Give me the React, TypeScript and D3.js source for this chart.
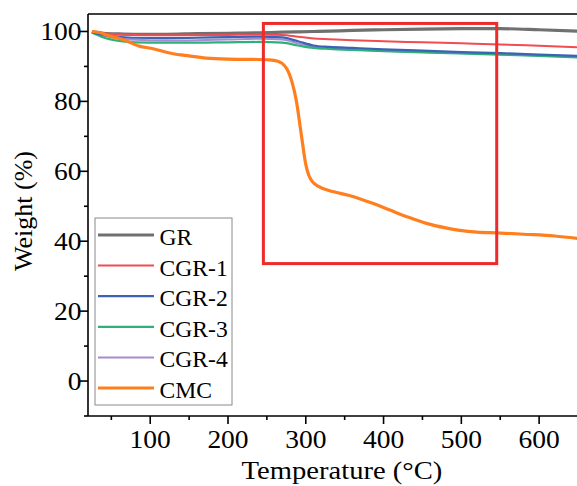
import React, { useEffect, useRef } from "react";
import * as d3 from "d3";

const temps = [25, 40, 60, 80, 120, 160, 200, 240, 270, 290, 310, 330, 360, 400, 450, 500, 550, 600, 650];
const grValues = [99.9, 99.5, 99.3, 99.2, 99.2, 99.4, 99.5, 99.6, 99.8, 99.9, 100.0, 100.1, 100.3, 100.5, 100.7, 100.8, 100.8, 100.5, 100.1];
const cgr1Values = [99.9, 99.5, 99.2, 99.0, 98.9, 98.9, 99.0, 99.1, 99.0, 98.5, 98.0, 97.8, 97.5, 97.2, 96.9, 96.6, 96.3, 95.9, 95.5];
const cgr2Values = [99.8, 99.0, 98.5, 98.2, 98.1, 98.2, 98.4, 98.5, 98.3, 97.2, 96.0, 95.6, 95.3, 94.9, 94.5, 94.1, 93.8, 93.4, 93.0];
const cgr3Values = [99.7, 98.3, 97.3, 96.9, 96.8, 96.8, 96.9, 97.0, 96.8, 96.0, 95.3, 95.0, 94.7, 94.4, 94.0, 93.7, 93.4, 93.0, 92.6];
const cgr4Values = [99.8, 98.8, 98.0, 97.6, 97.4, 97.5, 97.7, 97.9, 97.7, 96.6, 95.6, 95.2, 94.9, 94.5, 94.1, 93.8, 93.5, 93.1, 92.8];
const cmcTemps = [25, 35, 45, 65, 86, 101, 128, 150, 172, 200, 232, 253, 264, 270, 276, 282, 288, 294, 300, 304, 308, 317, 330, 356, 385, 408, 430, 455, 480, 498, 520, 545, 580, 620, 650];
const cmcValues = [100, 99.7, 98.9, 97.7, 95.8, 95.2, 93.7, 93.0, 92.4, 92.1, 92.0, 91.9, 91.5, 90.8, 89.2, 85.8, 80.0, 70.9, 62.0, 58.8, 57.2, 55.6, 54.5, 53.1, 50.9, 48.9, 47.0, 45.1, 43.8, 43.1, 42.6, 42.4, 42.0, 41.5, 40.8];

const seriesNames = ["GR", "CGR-1", "CGR-2", "CGR-3", "CGR-4", "CMC"];
const seriesColors = ["#707070", "#f04c52", "#3b62b4", "#2eb07a", "#a88bcc", "#ff7f1e"];
const seriesWidths = [3.2, 2, 2.2, 2.2, 2, 3.2];

const xTicks = [100, 200, 300, 400, 500, 600];
const xMinor = [50, 150, 250, 350, 450, 550, 650];
const yTicks = [0, 20, 40, 60, 80, 100];
const yMinor = [-10, 10, 30, 50, 70, 90];
const xDomain = [20, 650];
const yDomain = [-10, 105];
const boxX = [245.5, 545.5];
const boxY = [33.6, 102.3];

const W = 577, H = 486;
const M = { left: 88, right: 578, top: 14, bottom: 416 };
const FONT = "'Liberation Serif', 'Times New Roman', serif";

export default function App() {
  const ref = useRef<SVGSVGElement>(null);
  useEffect(() => {
    const svg = d3.select(ref.current);
    svg.selectAll("*").remove();
    const x = d3.scaleLinear().domain(xDomain).range([M.left, M.right]);
    const y = d3.scaleLinear().domain(yDomain).range([M.bottom, M.top]);

    const series = [
      temps.map((t, i) => [t, grValues[i]]),
      temps.map((t, i) => [t, cgr1Values[i]]),
      temps.map((t, i) => [t, cgr2Values[i]]),
      temps.map((t, i) => [t, cgr3Values[i]]),
      temps.map((t, i) => [t, cgr4Values[i]]),
      cmcTemps.map((t, i) => [t, cmcValues[i]]),
    ];
    const line = d3.line<number[]>().x(d => x(d[0])).y(d => y(d[1])).curve(d3.curveMonotoneX);
    [0, 1, 4, 3, 2, 5].forEach(i => {
      svg.append("path").attr("d", line(series[i] as any)).attr("fill", "none")
        .attr("stroke", seriesColors[i]).attr("stroke-width", seriesWidths[i]).attr("stroke-linejoin", "round");
    });

    // red rectangle
    svg.append("rect").attr("x", x(boxX[0])).attr("y", y(boxY[1]))
      .attr("width", x(boxX[1]) - x(boxX[0])).attr("height", y(boxY[0]) - y(boxY[1]))
      .attr("fill", "none").attr("stroke", "#ee2a2a").attr("stroke-width", 3);

    // axes frame
    const ax = svg.append("g").attr("stroke", "#000").attr("stroke-width", 1.6);
    ax.append("line").attr("x1", M.left).attr("x2", M.right).attr("y1", M.bottom).attr("y2", M.bottom);
    ax.append("line").attr("x1", M.left).attr("x2", M.right).attr("y1", M.top).attr("y2", M.top);
    ax.append("line").attr("x1", M.left).attr("x2", M.left).attr("y1", M.top).attr("y2", M.bottom);
    ax.append("line").attr("x1", M.right).attr("x2", M.right).attr("y1", M.top).attr("y2", M.bottom);
    xTicks.forEach(t => ax.append("line").attr("x1", x(t)).attr("x2", x(t)).attr("y1", M.bottom).attr("y2", M.bottom + 8));
    xMinor.forEach(t => ax.append("line").attr("x1", x(t)).attr("x2", x(t)).attr("y1", M.bottom).attr("y2", M.bottom + 4));
    yTicks.forEach(t => ax.append("line").attr("y1", y(t)).attr("y2", y(t)).attr("x1", M.left).attr("x2", M.left - 8));
    yMinor.forEach(t => ax.append("line").attr("y1", y(t)).attr("y2", y(t)).attr("x1", M.left).attr("x2", M.left - 4));

    const txt = (g: any, tx: number, ty: number, s: string, size: number, anchor: string, sx: number) =>
      g.append("text").attr("transform", `translate(${tx},${ty}) scale(${sx},1)`)
        .attr("font-family", FONT).attr("font-size", size).attr("text-anchor", anchor).attr("fill", "#000").text(s);

    xTicks.forEach(t => txt(svg, x(t), 448, String(t), 25, "middle", 1.1));
    yTicks.forEach(t => txt(svg, 81.5, y(t) + 8.5, String(t), 25, "end", 1.1));
    txt(svg, 342, 479, "Temperature (°C)", 26, "middle", 1.1);
    svg.append("text").attr("transform", `translate(32,211) rotate(-90)`)
      .attr("font-family", FONT).attr("font-size", 26).attr("text-anchor", "middle").text("Weight (%)");

    // legend
    const lg = svg.append("g");
    lg.append("rect").attr("x", 95).attr("y", 218).attr("width", 137).attr("height", 187)
      .attr("fill", "#fff").attr("stroke", "#8a8a8a").attr("stroke-width", 1);
    seriesNames.forEach((n, i) => {
      const cy = 235 + i * 30.6;
      lg.append("line").attr("x1", 98).attr("x2", 154).attr("y1", cy).attr("y2", cy)
        .attr("stroke", seriesColors[i]).attr("stroke-width", seriesWidths[i]);
      txt(lg, 159.5, cy + 10, n, 22.5, "start", 1.05);
    });
  }, []);
  return (
    <svg ref={ref} width={W} height={H} style={{ position: "absolute", left: 0, top: 0, background: "#fff" }} />
  );
}
